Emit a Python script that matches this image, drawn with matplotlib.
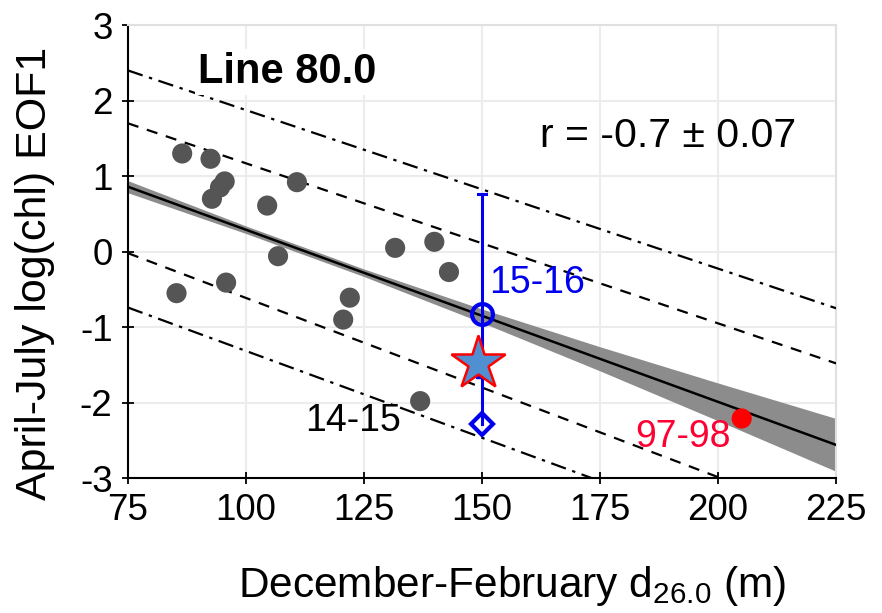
import matplotlib
matplotlib.use("Agg")
import matplotlib.pyplot as plt
import numpy as np

plt.rcParams['font.family'] = ['Liberation Sans', 'DejaVu Sans']
plt.rcParams['mathtext.fontset'] = 'custom'
plt.rcParams['mathtext.rm'] = 'Liberation Sans'
plt.rcParams['mathtext.it'] = 'Liberation Sans:italic'
plt.rcParams['axes.unicode_minus'] = False

# Observed years: Dec-Feb d26.0 depth (m) vs Apr-Jul log(chl) EOF1
depth = [86.5, 92.5, 95.5, 94.5, 92.8, 104.5, 110.8, 106.8, 95.8, 85.3,
         120.6, 122.0, 131.6, 139.9, 143.0, 136.9]
chl = [1.30, 1.23, 0.93, 0.85, 0.70, 0.61, 0.92, -0.06, -0.41, -0.55,
       -0.90, -0.61, 0.05, 0.13, -0.27, -1.98]

# 1997-98 El Nino year
elnino_depth = [205.0]
elnino_chl = [-2.21]

# 2015-16 prediction and range
pred_depth = 150.0
pred_chl = -0.82
pred_range = [-2.28, 0.77]
obs_star = [-1.47]
obs_square = [-1.60]

# Regression line and confidence band half-widths
fit_x = [75, 100, 125, 150, 175, 200, 225]
fit_y = [0.86, 0.29, -0.28, -0.85, -1.42, -1.99, -2.56]
band_hw = [0.08, 0.05, 0.05, 0.09, 0.16, 0.25, 0.35]

# Interval lines: (y at x=75, y at x=225)
interval_x = [75, 225]
inner_upper = [1.70, -1.48]
inner_lower = [-0.02, -3.58]
outer_upper = [2.40, -0.75]
outer_lower = [-0.74, -4.19]

xticks = [75, 100, 125, 150, 175, 200, 225]
yticks = [-3, -2, -1, 0, 1, 2, 3]

fig = plt.figure(figsize=(8.82, 6.13), dpi=100)
ax = fig.add_axes([0.145, 0.22, 0.803, 0.739])

ax.set_xlim(75, 225)
ax.set_ylim(-3, 3)
ax.set_xticks(xticks)
ax.set_yticks(yticks)
ax.grid(True, color='#ececec', lw=1.5, zorder=0)
for s in ['top', 'right']:
    ax.spines[s].set_color('#e0e0e0')
    ax.spines[s].set_linewidth(1.5)
for s in ['left', 'bottom']:
    ax.spines[s].set_linewidth(1.5)
ax.tick_params(labelsize=26.5, direction='inout', length=8, width=1.3, pad=7)

# Confidence band and regression line
fx = np.array(fit_x, float)
fy = np.array(fit_y, float)
hw = np.array(band_hw, float)
ax.fill_between(fx, fy - hw, fy + hw, color='#8c8c8c', lw=0, zorder=2)
ax.plot(fx, fy, color='black', lw=1.8, zorder=3)

dash = (0, (5, 4))
dashdot = (0, (7, 3, 1.5, 3))
ax.plot(interval_x, inner_upper, color='black', lw=1.6, ls=dash, zorder=3)
ax.plot(interval_x, inner_lower, color='black', lw=1.6, ls=dash, zorder=3)
ax.plot(interval_x, outer_upper, color='black', lw=1.6, ls=dashdot, zorder=3)
ax.plot(interval_x, outer_lower, color='black', lw=1.6, ls=dashdot, zorder=3)

ax.scatter(depth, chl, s=210, color='#555555', edgecolors='none', zorder=4)
ax.scatter(elnino_depth, elnino_chl, s=210, color='#ff0000', edgecolors='none', zorder=4)

# 2015-16 prediction range
ax.plot([pred_depth, pred_depth], pred_range, color='#0000ee', lw=2.2, zorder=5)
ax.plot([pred_depth - 0.9, pred_depth + 0.9], [pred_range[1], pred_range[1]],
        color='#0000ee', lw=2.2, zorder=5)
ax.plot([pred_depth], [pred_chl], marker='o', ms=15, mfc='none', mec='#0000ee',
        mew=3, zorder=6)
ax.plot([pred_depth], [pred_range[0]], marker='D', ms=11, mfc='none', mec='#0000ee',
        mew=3, zorder=6)
ax.plot([pred_depth], obs_square, marker='s', ms=9, color='#0000ee', zorder=6)
ax.plot([pred_depth - 0.8], obs_star, marker='*', ms=41, mfc='#4f8fd2', mec='#ff0000',
        mew=1.8, zorder=7)

ax.text(89.8, 2.38, 'Line 80.0', fontsize=30, fontweight='bold', va='center', ha='left',
        zorder=8, bbox=dict(facecolor='white', edgecolor='none', pad=2))
ax.text(162.3, 1.53, 'r = -0.7 \u00b1 0.07', fontsize=29.5, va='center', ha='left')
ax.text(151.5, -0.42, '15-16', fontsize=27, color='#0000ee', va='center', ha='left')
ax.text(112.5, -2.24, '14-15', fontsize=27, color='black', va='center', ha='left')
ax.text(182.5, -2.46, '97-98', fontsize=27, color='#ff0033', va='center', ha='left')

ax.set_xlabel('December-February d$_{26.0}$ (m)', fontsize=30.5)
ax.xaxis.set_label_coords(0.543, -0.19)
ax.set_ylabel('April-July log(chl) EOF1', fontsize=31)
ax.yaxis.set_label_coords(-0.103, 0.451)

fig.savefig('out.png', dpi=100, facecolor='white')
